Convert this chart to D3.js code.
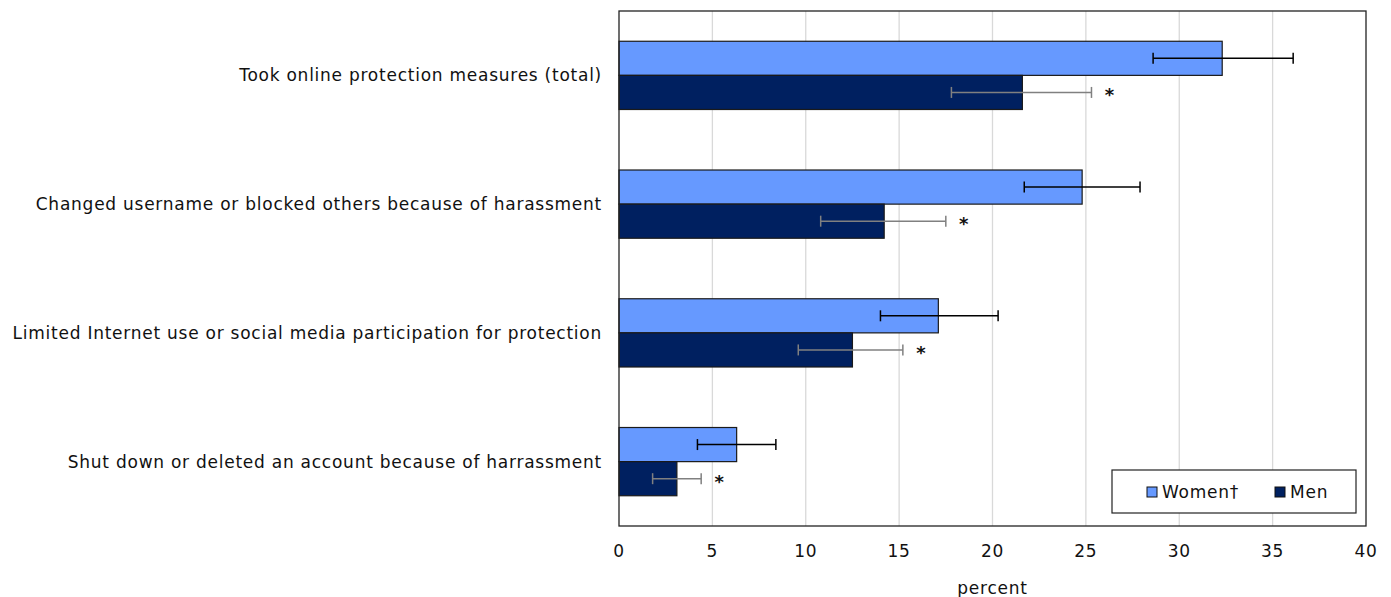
<!DOCTYPE html>
<html>
<head>
<meta charset="utf-8">
<script src="https://cdn.jsdelivr.net/npm/d3@7"></script>
<style>
  html, body { margin: 0; padding: 0; background: #fff; }
  svg { display: block; }
  text { font-family: "DejaVu Sans", Verdana, sans-serif; fill: #111; }
</style>
</head>
<body>
<svg id="chart" width="1391" height="597"></svg>
<script>
// Online protection measures taken, by gender (percent)
const categories = [
  "Took online protection measures (total)",
  "Changed username or blocked others because of harassment",
  "Limited Internet use or social media participation for protection",
  "Shut down or deleted an account because of harrassment"
];
const seriesNames = ["Women†", "Men"];
const womenValues = [32.3, 24.8, 17.1, 6.3];
const womenLow    = [28.6, 21.7, 14.0, 4.2];
const womenHigh   = [36.1, 27.9, 20.3, 8.4];
const menValues   = [21.6, 14.2, 12.5, 3.1];
const menLow      = [17.8, 10.8, 9.6, 1.8];
const menHigh     = [25.3, 17.5, 15.2, 4.4];
const menSignificant = [true, true, true, true];
const xTicks = [0, 5, 10, 15, 20, 25, 30, 35, 40];
const xTitle = "percent";

const colors = { "Women†": "#6699ff", "Men": "#002060" };
const errColors = { "Women†": "#000000", "Men": "#808080" };

const FONT = 17;
const SPACING = "0.75px";

const svg = d3.select("#chart");
const margin = { left: 619, right: 25, top: 11, bottom: 71 };
const W = 1391, H = 597;
const plotW = W - margin.left - margin.right;
const plotH = H - margin.top - margin.bottom;

const g = svg.append("g").attr("transform", `translate(${margin.left},${margin.top})`);

const x = d3.scaleLinear().domain([0, 40]).range([0, plotW]);
const y = d3.scaleBand().domain(categories).range([0, plotH]).paddingInner(0.47).paddingOuter(0.235);
const ySub = d3.scaleBand().domain(seriesNames).range([0, y.bandwidth()]);

// gridlines
g.append("g").selectAll("line")
  .data(xTicks.filter(t => t > 0 && t < 40))
  .join("line")
  .attr("x1", d => x(d)).attr("x2", d => x(d))
  .attr("y1", 0).attr("y2", plotH)
  .attr("stroke", "#d9d9d9").attr("stroke-width", 1.3);

const rows = categories.map((c, i) => ({
  cat: c,
  series: [
    { name: "Women†", v: womenValues[i], lo: womenLow[i], hi: womenHigh[i], sig: false },
    { name: "Men", v: menValues[i], lo: menLow[i], hi: menHigh[i], sig: menSignificant[i] }
  ]
}));

const groups = g.selectAll("g.cat").data(rows).join("g")
  .attr("class", "cat")
  .attr("transform", d => `translate(0,${y(d.cat)})`);

groups.selectAll("rect").data(d => d.series).join("rect")
  .attr("x", x(0))
  .attr("y", d => ySub(d.name))
  .attr("width", d => x(d.v) - x(0))
  .attr("height", ySub.bandwidth())
  .attr("fill", d => colors[d.name])
  .attr("stroke", "#1a1a1a").attr("stroke-width", 1.2);

// error bars
const eb = groups.selectAll("g.err").data(d => d.series).join("g").attr("class", "err")
  .attr("transform", d => `translate(0,${ySub(d.name) + ySub.bandwidth() / 2})`);
eb.append("line")
  .attr("x1", d => x(d.lo)).attr("x2", d => x(d.hi))
  .attr("y1", 0).attr("y2", 0)
  .attr("stroke", d => errColors[d.name]).attr("stroke-width", 1.5);
eb.append("line")
  .attr("x1", d => x(d.lo)).attr("x2", d => x(d.lo))
  .attr("y1", -5.5).attr("y2", 5.5)
  .attr("stroke", d => errColors[d.name]).attr("stroke-width", 1.5);
eb.append("line")
  .attr("x1", d => x(d.hi)).attr("x2", d => x(d.hi))
  .attr("y1", -5.5).attr("y2", 5.5)
  .attr("stroke", d => errColors[d.name]).attr("stroke-width", 1.5);
eb.filter(d => d.sig).append("text")
  .attr("x", d => x(d.hi) + 18)
  .attr("y", 9)
  .attr("text-anchor", "middle")
  .attr("font-size", 18)
  .attr("font-weight", "bold")
  .text("*");

// frame
g.append("rect").attr("x", 0).attr("y", 0).attr("width", plotW).attr("height", plotH)
  .attr("fill", "none").attr("stroke", "#222").attr("stroke-width", 1.3);

// category labels
g.append("g").selectAll("text").data(categories).join("text")
  .attr("x", -17)
  .attr("y", d => y(d) + y.bandwidth() / 2 + 6)
  .attr("text-anchor", "end")
  .attr("font-size", FONT)
  .attr("letter-spacing", SPACING)
  .text(d => d);

// x axis labels
g.append("g").selectAll("text").data(xTicks).join("text")
  .attr("x", d => x(d))
  .attr("y", plotH + 31)
  .attr("text-anchor", "middle")
  .attr("font-size", FONT)
  .attr("letter-spacing", SPACING)
  .text(d => d);

g.append("text")
  .attr("x", x(20)).attr("y", plotH + 68)
  .attr("text-anchor", "middle")
  .attr("font-size", FONT)
  .attr("letter-spacing", SPACING)
  .text(xTitle);

// legend
const lg = svg.append("g").attr("transform", "translate(1112,470)");
lg.append("rect").attr("width", 244).attr("height", 43)
  .attr("fill", "#fff").attr("stroke", "#222").attr("stroke-width", 1.2);
const items = [{ name: "Women†", dx: 35 }, { name: "Men", dx: 163 }];
items.forEach(it => {
  lg.append("rect").attr("x", it.dx).attr("y", 17).attr("width", 10).attr("height", 10)
    .attr("fill", colors[it.name]).attr("stroke", "#111").attr("stroke-width", 1);
  lg.append("text").attr("x", it.dx + 15).attr("y", 28)
    .attr("font-size", FONT).attr("letter-spacing", SPACING).text(it.name);
});
</script>
</body>
</html>
